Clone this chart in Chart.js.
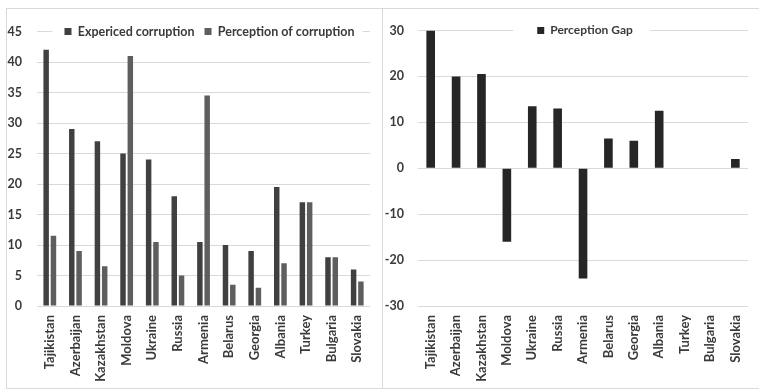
<!DOCTYPE html>
<html>
<head>
<meta charset="utf-8">
<script src="https://cdn.jsdelivr.net/npm/chart.js@4/dist/chart.umd.min.js"></script>
<style>
  html, body { margin: 0; padding: 0; background: #fff; width: 759px; height: 390px; overflow: hidden; }
  .panel { position: absolute; border: 1px solid #d9d9d9; }
  #p1 { left: 6px; top: 8px; width: 375px; height: 379px; }
  #p2 { left: 382px; top: 8px; width: 377px; height: 379px; }
  canvas { display: block; }
</style>
</head>
<body>
<div class="panel" id="p1"><canvas id="c1" width="375" height="379"></canvas></div>
<div class="panel" id="p2"><canvas id="c2" width="377" height="379"></canvas></div>
<script>
// Countries shown on both category axes
const countries = ['Tajikistan', 'Azerbaijan', 'Kazakhstan', 'Moldova', 'Ukraine', 'Russia',
  'Armenia', 'Belarus', 'Georgia', 'Albania', 'Turkey', 'Bulgaria', 'Slovakia'];

// Share of respondents (%)
const experienced = [42, 29, 27, 25, 24, 18, 10.5, 10, 9, 19.5, 17, 8, 6];
const perception = [11.5, 9, 6.5, 41, 10.5, 5, 34.5, 3.5, 3, 7, 17, 8, 4];

// Experienced minus perceived (percentage points)
const perceptionGap = [30, 20, 20.5, -16, 13.5, 13, -24, 6.5, 6, 12.5, 0, 0, 2];

// Series names
const seriesNames = ['Expericed corruption', 'Perception of corruption', 'Perception Gap'];

const TEXT = '#3a3a3a';
const GRID = '#d9d9d9';
const FAMILY = 'Lato, "Open Sans", sans-serif';
const TICK_FONT = { family: FAMILY, size: 12.5, weight: 'bold' };
const CAT_FONT = { family: FAMILY, size: 13, weight: 'bold' };

// Places the legend on top of the upper gridline and clears the line behind it
function legendOnGrid(padL, padR, offsetX) {
  return {
    id: 'legendOnGrid',
    afterLayout(chart) {
      const lg = chart.legend;
      const dy = chart.chartArea.top - (lg.top + lg.height / 2);
      lg.top += dy; lg.bottom += dy;
      const ca = chart.chartArea;
      const dx = (ca.left + ca.right) / 2 - (lg.left + lg.right) / 2 + offsetX;
      lg.left += dx; lg.right += dx;
    },
    afterDraw(chart) {
      const lg = chart.legend, ctx = chart.ctx;
      const boxes = lg.legendHitBoxes || [];
      if (!boxes.length) return;
      const x0 = Math.min(...boxes.map(b => b.left)) - padL;
      const x1 = Math.max(...boxes.map(b => b.left + b.width)) + padR;
      const y = chart.chartArea.top;
      ctx.save();
      ctx.fillStyle = '#fff';
      ctx.fillRect(x0, y - 8, x1 - x0, 16);
      ctx.restore();
      lg.draw();
    }
  };
}

function baseOptions(yMin, yMax, step, yWidth, tickPad, padTop, padRight, legendSize) {
  return {
    responsive: false,
    animation: false,
    devicePixelRatio: 1,
    layout: { padding: { top: padTop, right: padRight, left: 0, bottom: 0 } },
    plugins: {
      tooltip: { enabled: false },
      legend: {
        position: 'top',
        labels: {
          color: TEXT, boxWidth: 7, boxHeight: 7, padding: 10,
          font: { family: FAMILY, size: legendSize, weight: 'bold' }
        }
      }
    },
    scales: {
      x: {
        grid: { display: false, drawTicks: false },
        border: { display: false },
        ticks: { color: TEXT, font: CAT_FONT, autoSkip: false, minRotation: 90, maxRotation: 90, padding: 9 },
        afterFit(s) { s.height = 82; }
      },
      y: {
        min: yMin, max: yMax,
        grid: { color: GRID, lineWidth: 1, drawTicks: false },
        border: { display: false },
        ticks: { stepSize: step, color: TEXT, font: TICK_FONT, padding: tickPad },
        afterFit(s) { s.width = yWidth; }
      }
    }
  };
}

new Chart(document.getElementById('c1'), {
  type: 'bar',
  data: {
    labels: countries,
    datasets: [
      { label: seriesNames[0], data: experienced, backgroundColor: '#404040',
        categoryPercentage: 0.57, barPercentage: 0.75 },
      { label: seriesNames[1], data: perception, backgroundColor: '#5e5e5e',
        categoryPercentage: 0.57, barPercentage: 0.75 }
    ]
  },
  options: baseOptions(0, 45, 5, 30, 15, -16.5, 4, 12.5),
  plugins: [legendOnGrid(12, 8, 6)]
});

new Chart(document.getElementById('c2'), {
  type: 'bar',
  data: {
    labels: countries,
    datasets: [
      { label: seriesNames[2], data: perceptionGap, backgroundColor: '#262626',
        categoryPercentage: 0.34, barPercentage: 1 }
    ]
  },
  options: baseOptions(-30, 30, 10, 35, 14, -15, 1, 12),
  plugins: [legendOnGrid(24, 17, 2)]
});
</script>
</body>
</html>
